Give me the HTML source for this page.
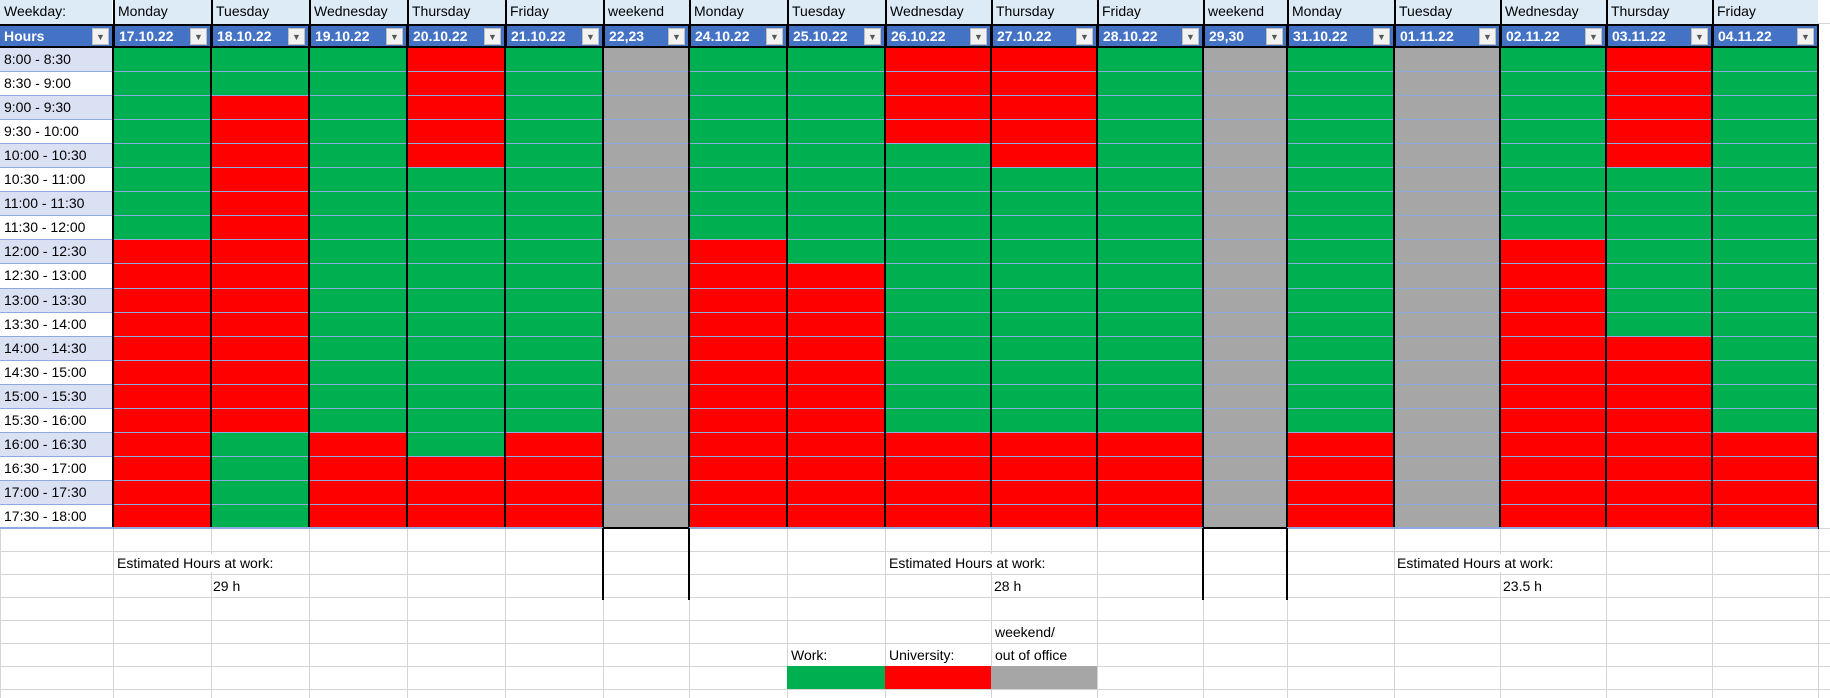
<!DOCTYPE html>
<html><head><meta charset="utf-8">
<style>
html,body{margin:0;padding:0;background:#fff;}
#sheet{position:relative;width:1830px;height:698px;overflow:hidden;font-family:"Liberation Sans",Arial,sans-serif;font-size:14px;color:#000;}
.c{position:absolute;box-sizing:border-box;white-space:nowrap;overflow:hidden;}
.t{position:absolute;white-space:nowrap;font-size:14px;background:#fff;padding:1px 0;}
</style></head>
<body>
<div id="sheet"></div>
<script>
const weekdays = ["Monday","Tuesday","Wednesday","Thursday","Friday","weekend","Monday","Tuesday","Wednesday","Thursday","Friday","weekend","Monday","Tuesday","Wednesday","Thursday","Friday"];
const dates = ["17.10.22","18.10.22","19.10.22","20.10.22","21.10.22","22,23","24.10.22","25.10.22","26.10.22","27.10.22","28.10.22","29,30","31.10.22","01.11.22","02.11.22","03.11.22","04.11.22"];
const slots = ["8:00 - 8:30","8:30 - 9:00","9:00 - 9:30","9:30 - 10:00","10:00 - 10:30","10:30 - 11:00","11:00 - 11:30","11:30 - 12:00","12:00 - 12:30","12:30 - 13:00","13:00 - 13:30","13:30 - 14:00","14:00 - 14:30","14:30 - 15:00","15:00 - 15:30","15:30 - 16:00","16:00 - 16:30","16:30 - 17:00","17:00 - 17:30","17:30 - 18:00"];
// W = work, U = university, O = weekend / out of office (one string per day, one char per slot)
const status = [
 "WWWWWWWWUUUUUUUUUUUU",
 "WWUUUUUUUUUUUUUUWWWW",
 "WWWWWWWWWWWWWWWWUUUU",
 "UUUUUWWWWWWWWWWWWUUU",
 "WWWWWWWWWWWWWWWWUUUU",
 "OOOOOOOOOOOOOOOOOOOO",
 "WWWWWWWWUUUUUUUUUUUU",
 "WWWWWWWWWUUUUUUUUUUU",
 "UUUUWWWWWWWWWWWWUUUU",
 "UUUUUWWWWWWWWWWWUUUU",
 "WWWWWWWWWWWWWWWWUUUU",
 "OOOOOOOOOOOOOOOOOOOO",
 "WWWWWWWWWWWWWWWWUUUU",
 "OOOOOOOOOOOOOOOOOOOO",
 "WWWWWWWWUUUUUUUUUUUU",
 "UUUUUWWWWWWWUUUUUUUU",
 "WWWWWWWWWWWWWWWWUUUU"
];
const weekTotals = ["29 h","28 h","23.5 h"];
const colors = {W:"#00B050",U:"#FF0000",O:"#A6A6A6"};

const colX = [0,113,211,309,407,505,603,689,787,885,991,1097,1203,1287,1394,1500,1606,1712,1818,1830];
const sheet = document.getElementById('sheet');
function box(x,y,w,h,css,text,name){
  const d=document.createElement('div');
  d.className='c';
  d.style.cssText=`left:${x}px;top:${y}px;width:${w}px;height:${h}px;`+(css||'');
  if(text!==undefined) d.textContent=text;
  
  
  sheet.appendChild(d);
  return d;
}
const lowRows=[528,551,574,597,620,643,666,689,712];
for(let r=0;r<lowRows.length-1;r++){
  for(let c=0;c<colX.length-1;c++){
    box(colX[c],lowRows[r],colX[c+1]-colX[c]+1,lowRows[r+1]-lowRows[r]+1,'border:1px solid #D4D4D4;',undefined,'empty-cell');
  }
}
box(0,0,1830,24,'background:#fff;border-bottom:1px solid #D4D4D4;',undefined,'header-bg');
box(0,0,113,24,'background:#DDEBF7;border-right:1px solid #fff;padding:3px 0 0 4px;','Weekday:','weekday-label');
weekdays.forEach((w,i)=>{
  box(colX[i+1],0,colX[i+2]-colX[i+1],24,'background:#DDEBF7;border-left:2px solid #000;padding:3px 0 0 3px;',w,'weekday-header');
});
box(0,24,1818,24,'background:#4472C4;border-top:2px solid #000;border-bottom:2px solid #000;',undefined,'date-row-bg');
function filterBtn(x,y){
  const d=box(x,y,17,17,'background:#F2F2F2;border:1px solid #BFBFBF;color:#595959;font-size:9px;text-align:center;line-height:16px;','▼','filter-dropdown');
  
}
box(0,26,113,20,'color:#fff;font-weight:bold;padding:2px 0 0 4px;','Hours','hours-header');
filterBtn(113-21,28);
dates.forEach((d,i)=>{
  const x=colX[i+1],w=colX[i+2]-colX[i+1];
  box(x,26,w,20,'color:#fff;font-weight:bold;padding:2px 0 0 4px;border-left:2px solid #000;',d,'date-header');
  filterBtn(x+w-21,28);
});
const top0=48, rh=24.05;
slots.forEach((s,r)=>{
  const y=Math.round(top0+r*rh), y2=Math.round(top0+(r+1)*rh);
  box(0,y,113,y2-y,'background:'+(r%2===0?'#D9E1F2':'#fff')+';border-bottom:1px solid #8EA9DB;padding:3px 0 0 4px;',s,'time-slot-label');
  status.forEach((st,c)=>{
    const x=colX[c+1],w=colX[c+2]-colX[c+1];
    box(x,y,w,y2-y,'background:'+colors[st[r]]+';border-bottom:1px solid #8EA9DB;',undefined,'slot-cell');
  });
});
for(let c=1;c<=18;c++){
  box(colX[c]-1,24,2,505,'background:#000;',undefined,'column-border');
}
box(0,527,1818,2,'background:#8EA9DB;',undefined,'table-bottom');
box(603,527,86,2,'background:#000;',undefined,'weekend-bottom');
box(1203,527,84,2,'background:#000;',undefined,'weekend-bottom');
[603,689,1203,1287].forEach(x=>box(x-1,528,2,72,'background:#000;',undefined,'weekend-border'));
const totalPos=[[117,213],[889,994],[1397,1503]];
totalPos.forEach((p,i)=>{
  const a=document.createElement('div');a.className='t';a.style.left=p[0]+'px';a.style.top='554px';a.textContent='Estimated Hours at work:';
  
  
  sheet.appendChild(a);
  const b=document.createElement('div');b.className='t';b.style.left=p[1]+'px';b.style.top='577px';b.textContent=weekTotals[i];
  
  
  sheet.appendChild(b);
});
function txt(x,y,s,name){const a=document.createElement('div');a.className='t';a.style.left=x+'px';a.style.top=y+'px';a.textContent=s;
  
  
  sheet.appendChild(a);}
txt(791,646,'Work:','legend-work-label');
txt(889,646,'University:','legend-university-label');
txt(995,623,'weekend/','legend-weekend-label');
txt(995,646,'out of office','legend-weekend-label-2');
box(787,666,98,23,'background:#00B050;',undefined,'legend-work-swatch');
box(885,666,106,23,'background:#FF0000;',undefined,'legend-university-swatch');
box(991,666,106,23,'background:#A6A6A6;',undefined,'legend-weekend-swatch');
</script>
</body></html>
